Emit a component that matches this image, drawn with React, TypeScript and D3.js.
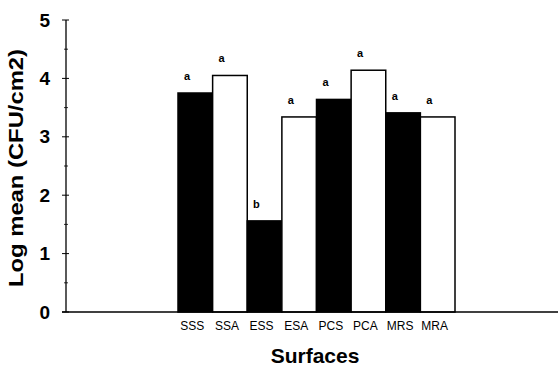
import React from 'react';
import * as d3 from 'd3';

const categories = ['SSS', 'SSA', 'ESS', 'ESA', 'PCS', 'PCA', 'MRS', 'MRA'];
const logMeans = [3.75, 4.05, 1.56, 3.34, 3.64, 4.14, 3.41, 3.34];
const groupLetters = ['a', 'a', 'b', 'a', 'a', 'a', 'a', 'a'];
const barFills = ['#000', '#fff', '#000', '#fff', '#000', '#fff', '#000', '#fff'];
const yTicks = [0, 1, 2, 3, 4, 5];
const yMinorTicks = [0.5, 1.5, 2.5, 3.5, 4.5];

const W = 558;
const H = 369;
const font = 'Arial, "Liberation Sans", Helvetica, sans-serif';

export default function App() {
  const axisX = 66;
  const x = d3.scaleBand<string>().domain(categories).range([178, 455]).padding(0);
  const y = d3.scaleLinear().domain([0, 5]).range([312, 20]);
  const bw = x.bandwidth();

  return (
    <div style={{ position: 'fixed', left: 0, top: 0, background: '#fff' }}>
      <svg width={W} height={H} style={{ display: 'block', fontFamily: font }}>
        <rect width={W} height={H} fill="#fff" />

        {/* bars */}
        {categories.map((c, i) => (
          <rect
            key={c}
            x={x(c)!}
            y={y(logMeans[i])}
            width={bw}
            height={y(0) - y(logMeans[i])}
            fill={barFills[i]}
            stroke="#000"
            strokeWidth={1.5}
          />
        ))}

        {/* significance letters */}
        {categories.map((c, i) => (
          <text
            key={c + '-l'}
            x={x(c)! + 9}
            y={y(logMeans[i]) - 13}
            textAnchor="middle"
            fontSize={11}
            fontWeight="bold"
            fill="#000"
          >
            {groupLetters[i]}
          </text>
        ))}

        {/* y axis */}
        <line x1={axisX} x2={axisX} y1={y(5)} y2={y(0)} stroke="#000" strokeWidth={1.3} />
        {yTicks.map(t => (
          <g key={t}>
            <line x1={axisX - 4} x2={axisX + 3} y1={y(t)} y2={y(t)} stroke="#000" strokeWidth={1} />
            <text x={50} y={y(t)} dy="0.35em" textAnchor="end" fontSize={19} fontWeight="bold">
              {t}
            </text>
          </g>
        ))}
        {yMinorTicks.map(t => (
          <line key={t} x1={axisX - 2} x2={axisX + 2} y1={y(t)} y2={y(t)} stroke="#000" strokeWidth={0.8} />
        ))}

        {/* baseline */}
        <line x1={axisX - 4} x2={W} y1={y(0)} y2={y(0)} stroke="#000" strokeWidth={1.3} />

        {/* category labels */}
        {categories.map(c => (
          <text key={c + '-c'} x={x(c)! + bw / 2 - 3} y={330} textAnchor="middle" fontSize={12}>
            {c}
          </text>
        ))}

        {/* axis titles */}
        <text
          transform={`translate(23,168) rotate(-90)`}
          textAnchor="middle"
          fontSize={20}
          fontWeight="bold"
          textLength={238}
          lengthAdjust="spacingAndGlyphs"
        >
          Log mean (CFU/cm2)
        </text>
        <text x={315} y={363} textAnchor="middle" fontSize={21} fontWeight="bold">
          Surfaces
        </text>
      </svg>
    </div>
  );
}
